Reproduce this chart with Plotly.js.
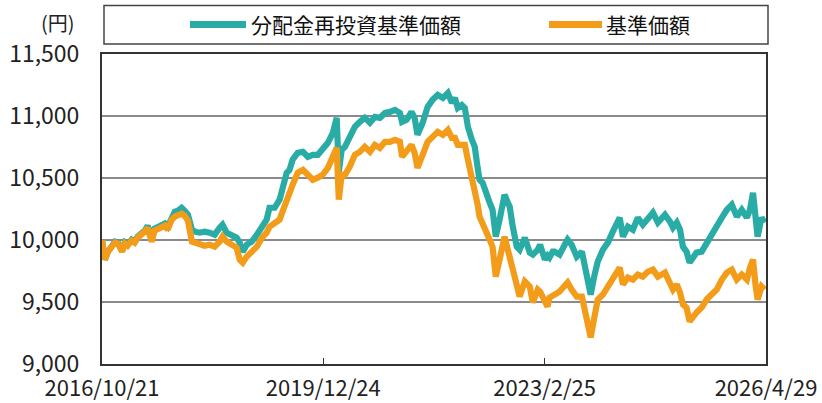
<!DOCTYPE html>
<html>
<head>
<meta charset="utf-8">
<script src="https://cdn.plot.ly/plotly-3.0.1.min.js"></script>
<style>
html,body{margin:0;padding:0;background:#fff;}
#chart{width:822px;height:403px;}
</style>
</head>
<body>
<div id="chart"></div>
<script>
// ---- data ----
const dates = [
"2016-10-21","2016-11-05","2016-11-21","2016-12-12","2016-12-28","2017-01-12","2017-02-03","2017-02-18","2017-03-04","2017-03-25",
"2017-04-10","2017-04-26","2017-05-16","2017-06-02","2017-06-17","2017-07-08","2017-07-23","2017-08-09","2017-08-29","2017-09-15",
"2017-09-30","2017-10-21","2017-11-06","2017-11-22","2017-12-12","2017-12-28","2018-01-14","2018-02-04","2018-02-20","2018-03-16",
"2018-04-11","2018-05-07","2018-06-03","2018-06-29","2018-07-14","2018-08-05","2018-09-01","2018-09-26","2018-10-12","2018-10-28",
"2018-11-18","2018-12-14","2019-01-10","2019-02-06","2019-03-02","2019-03-17","2019-04-13","2019-05-09","2019-05-24","2019-06-15",
"2019-06-30","2019-07-16","2019-08-12","2019-09-08","2019-10-04","2019-10-30","2019-11-25","2019-12-21","2020-01-17","2020-02-12",
"2020-03-03","2020-03-14","2020-03-29","2020-04-15","2020-05-10","2020-06-06","2020-07-02","2020-07-28","2020-08-24","2020-09-19",
"2020-10-15","2020-11-11","2020-12-07","2021-01-02","2021-01-28","2021-02-08","2021-03-04","2021-03-30","2021-04-15","2021-04-30",
"2021-05-27","2021-06-22","2021-07-18","2021-08-14","2021-09-10","2021-10-06","2021-10-27","2021-11-12","2021-11-27","2021-12-18",
"2022-01-03","2022-01-19","2022-02-09","2022-02-24","2022-03-11","2022-03-21","2022-04-06","2022-04-27","2022-05-13","2022-05-28",
"2022-06-14","2022-07-04","2022-07-20","2022-07-30","2022-08-16","2022-08-26","2022-09-11","2022-10-02","2022-10-17","2022-11-13",
"2022-12-09","2022-12-25","2023-01-20","2023-02-01","2023-02-26","2023-03-12","2023-03-22","2023-04-08","2023-04-18","2023-05-14",
"2023-06-10","2023-06-25","2023-07-16","2023-08-12","2023-09-08","2023-09-23","2023-10-09","2023-10-24","2023-11-10","2023-11-30",
"2023-12-27","2024-01-22","2024-02-17","2024-03-14","2024-03-24","2024-04-10","2024-05-06","2024-06-01","2024-06-27","2024-07-23",
"2024-08-19","2024-09-14","2024-10-10","2024-11-16","2024-12-12","2024-12-28","2025-01-17","2025-02-03","2025-02-18","2025-03-09",
"2025-03-25","2025-04-10","2025-04-30","2025-05-27","2025-06-22","2025-07-18","2025-08-14","2025-09-10","2025-10-06","2025-11-01",
"2025-11-27","2025-12-23","2026-01-19","2026-02-04","2026-02-20","2026-03-05","2026-03-16","2026-04-06","2026-04-22"
];

// 分配金再投資基準価額
const reinvested = [
10000,9842,9906,9946,9987,9979,9914,9979,9962,10003,
9987,10027,10051,10075,10115,10019,10091,10107,10115,10132,
10107,10196,10228,10236,10260,10236,10204,10083,10067,10059,
10067,10059,10043,10099,10123,10059,10043,10019,9979,9906,
9962,9987,10043,10099,10164,10260,10260,10325,10429,10542,
10566,10647,10703,10711,10671,10687,10687,10743,10784,10864,
10985,10550,10727,10751,10832,10912,10953,10985,10945,10993,
10985,11025,11033,11049,11025,10953,10969,11033,10985,10848,
10945,11073,11130,11170,11146,11186,11106,11146,11065,11089,
11065,10912,10808,10751,10582,10486,10462,10349,10301,10244,
10027,10164,10325,10365,10301,10268,10107,9946,9922,10019,
9898,9882,9922,9962,9842,9874,9858,9906,9906,9882,
9962,10003,9962,9866,9906,9801,9697,9560,9697,9826,
9922,9979,10067,10164,10180,10027,10107,10083,10180,10123,
10180,10220,10140,10204,10148,10099,10140,10083,9946,9906,
9818,9858,9898,9906,9979,10043,10107,10180,10244,10285,
10188,10244,10180,10244,10381,10188,10027,10180,10140
];

// 基準価額
const nav = [
10000,9842,9906,9938,9979,9971,9906,9971,9954,9995,
9979,10019,10043,10067,10099,9987,10075,10091,10099,10115,
10083,10164,10188,10196,10212,10196,10156,9987,9979,9962,
9954,9962,9946,9987,10027,9987,9962,9938,9842,9818,
9866,9898,9946,10019,10059,10107,10140,10164,10228,10325,
10365,10445,10542,10566,10526,10486,10502,10526,10582,10687,
10743,10325,10526,10526,10590,10687,10711,10751,10711,10767,
10743,10792,10792,10808,10792,10671,10711,10767,10703,10582,
10687,10792,10832,10872,10848,10888,10824,10824,10767,10767,
10767,10647,10502,10421,10285,10188,10140,10059,10003,9946,
9705,9842,9987,10027,9922,9858,9745,9600,9544,9665,
9624,9496,9600,9584,9496,9463,9535,9544,9560,9584,
9624,9657,9600,9544,9544,9415,9335,9214,9359,9520,
9560,9624,9681,9745,9777,9641,9697,9681,9721,9705,
9745,9761,9705,9737,9657,9600,9641,9576,9480,9455,
9343,9383,9415,9455,9520,9560,9600,9681,9737,9761,
9681,9721,9681,9777,9842,9641,9520,9624,9600
];

const tickDates = ["2016-10-21","2019-12-24","2023-02-25","2026-04-29"];
const tickLabels = ["2016/10/21","2019/12/24","2023/2/25","2026/4/29"];
const yTicks = [9000,9500,10000,10500,11000,11500];
const seriesNames = ["分配金再投資基準価額","基準価額"];
const unitLabel = "(円)";

// ---- styles ----
const TEAL = "#2aaca6";
const ORANGE = "#f39c1a";
const FONT = "Noto Sans CJK JP, Noto Sans, sans-serif";

// plot area in pixels (for placing legend items in paper coords)
const PL = 102, PR = 766, PT = 54, PB = 364;
const px2x = p => (p - PL) / (PR - PL);
const px2y = p => (PB - p) / (PB - PT);

const traces = [
  {x: dates, y: reinvested, name: seriesNames[0], type: "scatter", mode: "lines",
   line: {color: TEAL, width: 6.2}},
  {x: dates, y: nav, name: seriesNames[1], type: "scatter", mode: "lines",
   line: {color: ORANGE, width: 6.2}}
];

const legY = px2y(24.5);
const layout = {
  width: 822, height: 403,
  margin: {l: PL, r: 822 - PR, t: PT, b: 403 - PB, pad: 0},
  paper_bgcolor: "#ffffff", plot_bgcolor: "#ffffff",
  showlegend: false,
  font: {family: FONT, size: 22, color: "#222"},
  xaxis: {
    type: "date",
    range: ["2016-10-21", "2026-04-29"],
    tickvals: tickDates, ticktext: tickLabels,
    ticks: "inside", ticklen: 6, tickwidth: 1.5, tickcolor: "#333",
    showgrid: false, zeroline: false,
    showline: true, linecolor: "#333", linewidth: 2, mirror: true,
    tickfont: {family: FONT, size: 22, color: "#222"},
    ticklabelstandoff: 4
  },
  yaxis: {
    range: [9000, 11500],
    tickvals: yTicks, tickformat: ",",
    ticks: "", showgrid: true, gridcolor: "#8a8a8a", gridwidth: 1.6,
    zeroline: false,
    showline: true, linecolor: "#333", linewidth: 2, mirror: true,
    tickfont: {family: FONT, size: 23, color: "#222"},
    ticklabelstandoff: 16
  },
  shapes: [
    {type: "rect", xref: "paper", yref: "paper",
     x0: px2x(104), x1: px2x(768), y0: px2y(44), y1: px2y(5.5),
     line: {color: "#444", width: 1.5}, fillcolor: "rgba(0,0,0,0)"},
    {type: "line", xref: "paper", yref: "paper",
     x0: px2x(190), x1: px2x(246), y0: legY, y1: legY,
     line: {color: TEAL, width: 7}},
    {type: "line", xref: "paper", yref: "paper",
     x0: px2x(549), x1: px2x(602), y0: legY, y1: legY,
     line: {color: ORANGE, width: 7}}
  ],
  annotations: [
    {xref: "paper", yref: "paper", x: px2x(249), y: legY, xanchor: "left", yanchor: "middle",
     text: seriesNames[0], showarrow: false, font: {family: FONT, size: 21, color: "#111"}},
    {xref: "paper", yref: "paper", x: px2x(604), y: legY, xanchor: "left", yanchor: "middle",
     text: seriesNames[1], showarrow: false, font: {family: FONT, size: 21, color: "#111"}},
    {xref: "paper", yref: "paper", x: px2x(58), y: px2y(23), xanchor: "center", yanchor: "middle",
     text: unitLabel, showarrow: false, font: {family: FONT, size: 20, color: "#222"}}
  ]
};

Plotly.newPlot("chart", traces, layout, {displayModeBar: false, staticPlot: true});
</script>
</body>
</html>
